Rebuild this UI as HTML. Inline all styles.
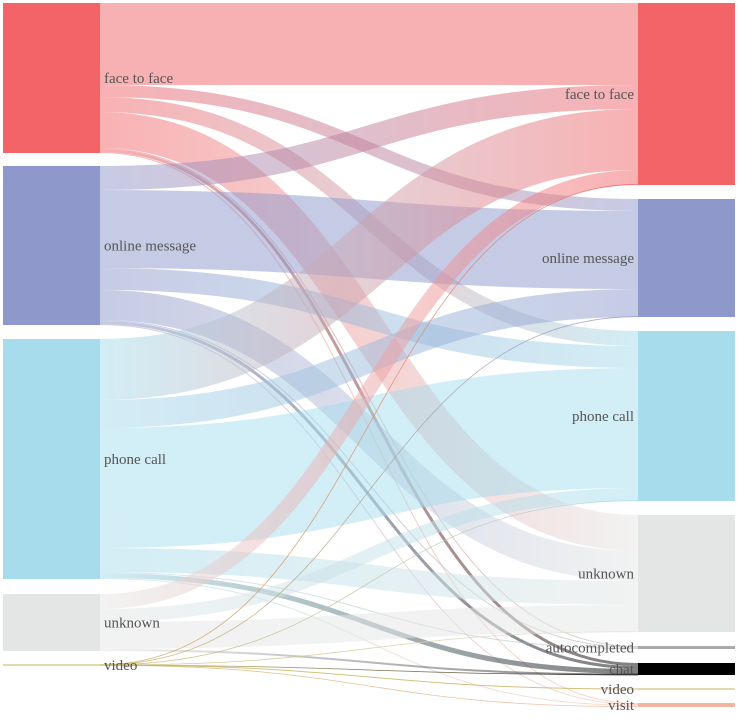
<!DOCTYPE html>
<html><head><meta charset="utf-8"><style>
html,body{margin:0;padding:0;background:#fff}
svg text{font-family:"Liberation Serif",serif;font-size:15px;fill:#555}
</style></head><body>
<svg width="738" height="714" viewBox="0 0 738 714" xmlns="http://www.w3.org/2000/svg">
<defs id="d"></defs>
<g id="links" fill="none" stroke-opacity="0.5"></g>
<g id="nodes"></g>
<g id="labels"></g>
</svg>
<script>
const C={f:"#f26468",o:"#8e98cb",p:"#a6dcec",u:"#e4e6e5",a:"#aaaaaa",b:"#000000",v:"#c9b25e",s:"#f4b5a0"};
const L={f:[3,153],o:[166,325],p:[339,579],u:[594,651],v:[664.5,665.5]};
const R={f:[3,185],o:[199,317],p:[331,501],u:[515,632],a:[646,649],b:[663,675],v:[688.5,689.5],s:[703,707]};
const links=[
["f","f",3,85,3,85],["f","o",85,97,199,211],["f","p",97,112,331,346],["f","u",112,148,515,551],["f","a",148,149,646,647],["f","b",149,152,663,666],["f","s",152,153,703,704],
["o","f",166,190,85,109],["o","o",190,268,211,289],["o","p",268,290,346,368],["o","u",290,320,551,581],["o","a",320,321,647,648],["o","b",321,324,666,669],["o","s",324,325,704,705],
["p","f",339,400,109,170],["p","o",400,428,289,317],["p","p",428,548,368,488],["p","u",548,572,581,605],["p","a",572,573,648,649],["p","b",573,578,669,674],["p","s",578,579,705,706],
["u","f",594,609,170,185],["u","p",609,622,488,501],["u","u",622,649,605,632],["u","b",649,651,674,675],
["v","f",664.5,665,184,184.6],["v","o",664.6,665.1,316.4,317],["v","p",664.8,665.3,500.4,501],["v","u",664.9,665.4,631.4,632],["v","b",665,665.5,674.4,675],["v","v",664.5,665.5,688.5,689.5],["v","s",665,665.5,706.4,707]
];
const ns="http://www.w3.org/2000/svg";
const d=document.getElementById("d"),lg=document.getElementById("links"),ng=document.getElementById("nodes"),tg=document.getElementById("labels");
links.forEach((l,i)=>{
 const g=document.createElementNS(ns,"linearGradient");g.id="g"+i;g.setAttribute("gradientUnits","userSpaceOnUse");
 g.setAttribute("x1",100);g.setAttribute("x2",638);g.setAttribute("y1",0);g.setAttribute("y2",0);
 g.innerHTML=`<stop offset="0" stop-color="${C[l[0]]}"/><stop offset="1" stop-color="${C[l[1]]}"/>`;d.appendChild(g);
 const s=(l[2]+l[3])/2,t=(l[4]+l[5])/2,w=Math.max(l[3]-l[2],0.8);
 const p=document.createElementNS(ns,"path");
 p.setAttribute("d",`M100,${s}C369,${s} 369,${t} 638,${t}`);
 p.setAttribute("stroke",`url(#g${i})`);p.setAttribute("stroke-width",w);
 if(l[0]=="v")p.setAttribute("stroke-opacity","0.8");
 lg.appendChild(p);
});
const names={f:"face to face",o:"online message",p:"phone call",u:"unknown",a:"autocompleted",b:"chat",v:"video",s:"visit"};
function node(x,y0,y1,k,right){
 const r=document.createElementNS(ns,"rect");r.setAttribute("x",x);r.setAttribute("y",y0);r.setAttribute("width",97);r.setAttribute("height",Math.max(y1-y0,1));r.setAttribute("fill",C[k]);ng.appendChild(r);
 const t=document.createElementNS(ns,"text");const m=(y0+y1)/2+5;
 if(right){t.setAttribute("x",634);t.setAttribute("text-anchor","end");}else t.setAttribute("x",104);
 t.setAttribute("y",m);t.textContent=names[k];tg.appendChild(t);
}
for(const k in L)node(3,L[k][0],L[k][1],k,false);
for(const k in R)node(638,R[k][0],R[k][1],k,true);
</script>
</body></html>
